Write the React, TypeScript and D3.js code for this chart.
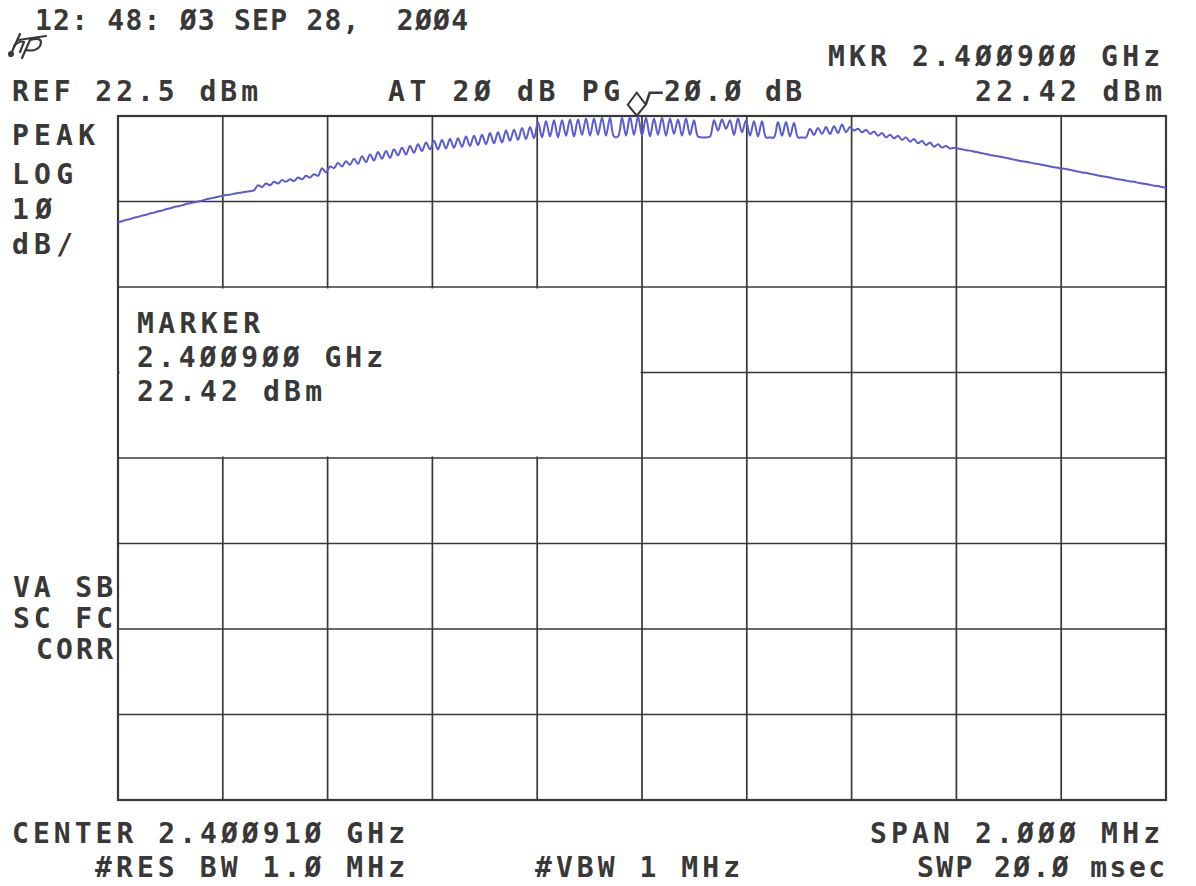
import React from "react";
import * as d3 from "d3";

// ---- instrument settings ----
const centerGHz = 2.40091;
const spanMHz = 2.0;
const refLevelDbm = 22.5;
const dbPerDiv = 10;
const yDivisions = 8;
const xDivisions = 10;

// ---- marker ----
const markerFreqGHz = 2.4009;
const markerLevelDbm = 22.42;

// ---- trace (uniform sweep points across the span), dBm ----
const traceLevels = [
  10.1, 10.2, 10.35, 10.45, 10.6, 10.7, 10.85, 10.95, 11.1, 11.2,
  11.35, 11.45, 11.6, 11.7, 11.85, 11.95, 12.05, 12.2, 12.3, 12.4,
  12.5, 12.6, 12.75, 12.85, 12.95, 13.05, 13.15, 13.25, 13.3, 13.4,
  13.5, 13.55, 13.65, 13.7, 13.8,
  14.4, 14.2, 14.6, 14.4, 14.8, 14.6, 15.0, 14.8, 15.1, 14.9,
  15.3, 15.1, 15.5, 15.3, 15.7, 15.5, 16.4, 15.9, 16.6,
  16.4, 17.0, 16.6, 17.2, 16.8, 17.5, 16.9, 17.8, 17.1, 18.0,
  17.3, 18.3, 17.5, 18.4, 17.6, 18.6, 17.9, 18.8, 18.0, 19.0,
  18.2, 19.2, 18.4, 19.4, 18.6,
  19.6, 18.6, 19.7, 18.7, 19.8, 18.8, 19.9, 18.9, 20.1, 19.0,
  20.2, 19.1, 20.3, 19.2, 20.5, 19.3, 20.6, 19.4, 20.8, 19.6,
  20.9, 19.7, 21.1, 19.8, 21.2, 19.9,
  21.8, 20.0, 21.9, 20.1, 22.0, 20.0, 22.0, 20.2, 22.1, 20.1,
  22.1, 20.3, 22.2, 20.2, 22.2, 20.3, 22.3, 20.2, 22.3, 20.1,
  20.1, 22.3, 20.2, 22.4, 20.3, 22.42,
  20.2, 22.3, 20.1, 22.2, 20.3, 22.3, 20.2, 22.2, 20.4, 22.1,
  20.2, 22.2, 20.3, 22.0, 20.1, 20.0, 20.0, 20.1, 22.0, 20.8,
  22.1, 21.0, 22.0, 20.3, 22.2, 20.6,
  22.0, 20.2, 21.9, 20.1, 21.9, 20.0, 20.0, 20.0, 21.8, 20.2,
  21.8, 20.1, 21.7, 20.0, 20.0, 20.0, 21.0, 20.3, 21.1, 20.4,
  21.2, 20.4, 21.3, 20.5, 21.5, 20.6,
  21.2, 20.8, 21.0, 20.6, 20.9, 20.4, 20.7, 20.2, 20.5, 20.0,
  20.3, 19.9, 20.2, 19.7, 20.0, 19.5, 19.8, 19.3, 19.6, 19.1,
  19.4, 18.9, 19.2, 18.8, 19.0, 18.7, 18.8,
  18.7, 18.6, 18.5, 18.45, 18.35, 18.25, 18.15, 18.05, 17.95, 17.85,
  17.8, 17.7, 17.6, 17.5, 17.4, 17.3, 17.2, 17.15, 17.05, 16.95,
  16.9, 16.8, 16.7, 16.6, 16.5, 16.45, 16.35, 16.3, 16.2, 16.1,
  16.0, 15.9, 15.85, 15.75, 15.65, 15.55, 15.45, 15.4, 15.3, 15.2,
  15.1, 15.05, 14.95, 14.85, 14.8, 14.7, 14.6, 14.55, 14.45, 14.35,
  14.3, 14.2, 14.1,
];

// ---- annotation texts: [text, xStart, xEnd, baseline] ----
const headerTexts: [string, number, number, number][] = [
  ["12: 48: Ø3 SEP 28,  2ØØ4", 35, 468, 30],
  ["MKR 2.4ØØ9ØØ GHz", 828, 1160, 66],
  ["REF 22.5 dBm", 12, 258, 101],
  ["AT 2Ø dB PG", 388, 620, 101],
  ["2Ø.Ø dB", 664, 802, 101],
  ["22.42 dBm", 975, 1162, 101],
];
const sideTexts: [string, number, number, number][] = [
  ["PEAK", 12, 95, 145],
  ["LOG", 12, 73, 184],
  ["1Ø", 12, 52, 219],
  ["dB/", 12, 73, 254],
  ["VA SB", 13, 113, 597],
  ["SC FC", 13, 113, 628],
  ["CORR", 36, 113, 659],
];
const markerBoxTexts: [string, number, number, number][] = [
  ["MARKER", 137, 260, 333],
  ["2.4ØØ9ØØ GHz", 137, 383, 367],
  ["22.42 dBm", 137, 322, 401],
];
const footerTexts: [string, number, number, number][] = [
  ["CENTER 2.4ØØ91Ø GHz", 12, 405, 843],
  ["#RES BW 1.Ø MHz", 95, 405, 877],
  ["#VBW 1 MHz", 535, 740, 877],
  ["SPAN 2.ØØØ MHz", 870, 1160, 843],
  ["SWP 2Ø.Ø msec", 917, 1165, 877],
];

const W = 1196;
const H = 886;
const plot = { left: 118, right: 1166, top: 116, bottom: 800 };
const ink = "#383838";
const traceColor = "#5a5ad2";
const font = "'DejaVu Sans Mono', monospace";

export default function App() {
  const startGHz = centerGHz - spanMHz / 2000;
  const stopGHz = centerGHz + spanMHz / 2000;
  const x = d3.scaleLinear().domain([startGHz, stopGHz]).range([plot.left, plot.right]);
  const bottomDbm = refLevelDbm - dbPerDiv * yDivisions;
  const y = d3.scaleLinear().domain([bottomDbm, refLevelDbm]).range([plot.bottom, plot.top]);
  const idx = d3.scaleLinear().domain([0, traceLevels.length - 1]).range([startGHz, stopGHz]);

  const line = d3
    .line<number>()
    .x((_, i) => x(idx(i)))
    .y((d) => y(d))
    .curve(d3.curveCatmullRom.alpha(0.5));

  const xTicks = d3.range(xDivisions + 1).map((i) => startGHz + (i * (stopGHz - startGHz)) / xDivisions);
  const yTicks = d3.range(yDivisions + 1).map((i) => bottomDbm + i * dbPerDiv);

  // marker box region (grid cells covered): cols 0..5, rows 2..4 from top
  const boxX0 = x(xTicks[0]);
  const boxX1 = x(xTicks[5]);
  const boxY0 = y(yTicks[yDivisions - 2]);
  const boxY1 = y(yTicks[yDivisions - 4]);

  const mx = x(markerFreqGHz);
  const my = y(markerLevelDbm);

  const renderText = (arr: [string, number, number, number][], key: string) =>
    arr.map(([t, x0, x1, b], i) => (
      <text
        key={key + i}
        x={x0}
        y={b}
        textLength={x1 - x0}
        lengthAdjust="spacing"
        fontFamily={font}
        fontWeight="bold"
        fontSize={28}
        fill={ink}
        style={{ whiteSpace: "pre" }}
      >
        {t}
      </text>
    ));

  return (
    <svg
      width={W}
      height={H}
      viewBox={`0 0 ${W} ${H}`}
      style={{ position: "absolute", left: 0, top: 0, background: "#fff" }}
    >
      <rect x={0} y={0} width={W} height={H} fill="#fff" />
      <defs>
        <clipPath id="plotclip">
          <rect x={plot.left} y={plot.top - 2} width={plot.right - plot.left} height={plot.bottom - plot.top + 2} />
        </clipPath>
      </defs>

      {/* grid */}
      <g stroke={ink} strokeWidth={1.7}>
        {xTicks.map((t, i) => (
          <line key={"vx" + i} x1={x(t)} x2={x(t)} y1={plot.top} y2={plot.bottom} />
        ))}
        {yTicks.map((t, i) => (
          <line key={"hy" + i} x1={plot.left} x2={plot.right} y1={y(t)} y2={y(t)} />
        ))}
        <rect
          x={plot.left}
          y={plot.top}
          width={plot.right - plot.left}
          height={plot.bottom - plot.top}
          fill="none"
          strokeWidth={2.2}
        />
      </g>

      {/* marker annotation box */}
      <rect x={boxX0 + 1.5} y={boxY0 + 1.5} width={boxX1 - boxX0 - 3} height={boxY1 - boxY0 - 3} fill="#fff" />

      {/* trace */}
      <path
        d={line(traceLevels) || ""}
        fill="none"
        stroke={traceColor}
        strokeWidth={2}
        strokeLinejoin="round"
        clipPath="url(#plotclip)"
      />

      {/* marker diamond and PG hook */}
      <path
        d={`M${mx},${my - 1} L${mx - 9},${my - 12} L${mx},${my - 24} L${mx + 9},${my - 12} Z`}
        fill="#fff"
        stroke={ink}
        strokeWidth={2}
      />
      <path
        d={`M${mx + 9},${my - 12} L${mx + 13},${my - 24} L${mx + 26},${my - 24}`}
        fill="none"
        stroke={ink}
        strokeWidth={2.6}
      />

      {/* hp logo */}
      <g fill="none" stroke={ink} strokeWidth={2.2} strokeLinecap="round">
        <path d="M20,34 L10,56" />
        <path d="M14,46 Q20,40 24,42 L20,52" />
        <path d="M30,40 L22,58" />
        <path d="M30,40 Q44,36 40,46 Q36,52 26,50" />
        <path d="M18,40 L46,36" />
      </g>
      <circle cx={11} cy={54} r={3} fill={ink} />

      {renderText(headerTexts, "h")}
      {renderText(sideTexts, "s")}
      {renderText(markerBoxTexts, "m")}
      {renderText(footerTexts, "f")}
    </svg>
  );
}
